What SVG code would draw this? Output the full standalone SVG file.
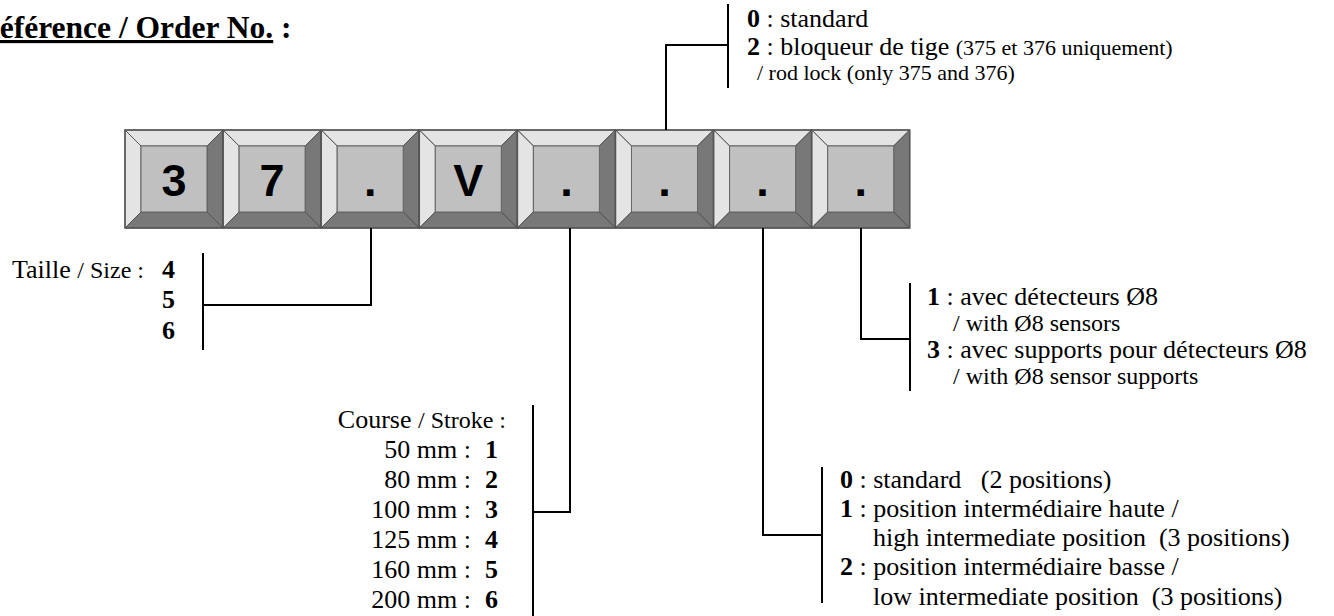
<svg xmlns="http://www.w3.org/2000/svg" xmlns:xlink="http://www.w3.org/1999/xlink" width="1334" height="616" viewBox="0 0 1334 616">
<style>
.t{font-family:"Liberation Serif","Times New Roman",serif;font-size:26px;fill:#000;white-space:pre}
.s{font-size:22px}
.m{font-size:24px}
.b{font-weight:bold}
.k{font-family:"Liberation Sans",Arial,sans-serif;font-size:45px;font-weight:bold;fill:#000;text-anchor:middle}
.ln{stroke:#000;stroke-width:2;fill:none}
.ed{stroke:#555;stroke-width:1}
</style>
<defs>
<g id="keyshape">
<rect x="0" y="0" width="98" height="98" fill="#787878"/>
<polygon points="0,0 98,0 82,16 16,16" fill="#e4e4e4" class="ed"/>
<polygon points="0,0 16,16 16,82 0,98" fill="#e4e4e4" class="ed"/>
<polygon points="98,0 98,98 82,82 82,16" fill="#787878" class="ed"/>
<polygon points="0,98 16,82 82,82 98,98" fill="#787878" class="ed"/>
<rect x="16" y="16" width="66" height="66" fill="#c0c0c0" stroke="#666" stroke-width="1"/>
<rect x="0" y="0" width="98" height="98" fill="none" stroke="#555" stroke-width="1.5"/>
</g>
</defs>
<rect width="1334" height="616" fill="#fff"/>
<g id="title">
<text class="t b" x="-23" y="38" style="font-size:31.5px"><tspan text-decoration="underline">Référence / Order No.</tspan> :</text>
</g>
<g id="key1" transform="translate(125,130)"><use xlink:href="#keyshape"/><text class="k" x="49" y="66">3</text></g>
<g id="key2" transform="translate(223.1,130)"><use xlink:href="#keyshape"/><text class="k" x="49" y="66">7</text></g>
<g id="key3" transform="translate(321.2,130)"><use xlink:href="#keyshape"/><text class="k" x="49" y="66">.</text></g>
<g id="key4" transform="translate(419.3,130)"><use xlink:href="#keyshape"/><text class="k" x="49" y="66">V</text></g>
<g id="key5" transform="translate(517.4,130)"><use xlink:href="#keyshape"/><text class="k" x="49" y="66">.</text></g>
<g id="key6" transform="translate(615.5,130)"><use xlink:href="#keyshape"/><text class="k" x="49" y="66">.</text></g>
<g id="key7" transform="translate(713.6,130)"><use xlink:href="#keyshape"/><text class="k" x="49" y="66">.</text></g>
<g id="key8" transform="translate(811.7,130)"><use xlink:href="#keyshape"/><text class="k" x="49" y="66">.</text></g>
<g id="connectors">
<polyline class="ln" points="666,130 666,45 728,45"/>
<line class="ln" x1="728" y1="4" x2="728" y2="88"/>
<polyline class="ln" points="371,228 371,305 203,305"/>
<line class="ln" x1="203" y1="253" x2="203" y2="350"/>
<polyline class="ln" points="570,228 570,512 533,512"/>
<line class="ln" x1="533" y1="405" x2="533" y2="616"/>
<polyline class="ln" points="763,228 763,535 822,535"/>
<line class="ln" x1="822" y1="467" x2="822" y2="603"/>
<polyline class="ln" points="861,228 861,339 910,339"/>
<line class="ln" x1="910" y1="283" x2="910" y2="391"/>
</g>
<g id="opt-rodlock">
<text class="t" x="747" y="27"><tspan class="b">0</tspan> : standard</text>
<text class="t" x="747" y="55"><tspan class="b">2</tspan> : bloqueur de tige <tspan class="s">(375 et 376 uniquement)</tspan></text>
<text class="t s" x="757" y="80">/ rod lock (only 375 and 376)</text>
</g>
<g id="opt-size">
<text class="t" x="12" y="278">Taille <tspan class="m">/ Size :</tspan></text>
<text class="t b" x="162" y="278">4</text>
<text class="t b" x="162" y="308">5</text>
<text class="t b" x="162" y="339">6</text>
</g>
<g id="opt-stroke">
<text class="t" x="506" y="428" text-anchor="end">Course <tspan class="m">/ Stroke :</tspan></text>
<text class="t" x="471" y="458" text-anchor="end">50 mm :</text><text class="t b" x="485" y="458">1</text>
<text class="t" x="471" y="488" text-anchor="end">80 mm :</text><text class="t b" x="485" y="488">2</text>
<text class="t" x="471" y="518" text-anchor="end">100 mm :</text><text class="t b" x="485" y="518">3</text>
<text class="t" x="471" y="548" text-anchor="end">125 mm :</text><text class="t b" x="485" y="548">4</text>
<text class="t" x="471" y="578" text-anchor="end">160 mm :</text><text class="t b" x="485" y="578">5</text>
<text class="t" x="471" y="608" text-anchor="end">200 mm :</text><text class="t b" x="485" y="608">6</text>
</g>
<g id="opt-position">
<text class="t" x="840" y="488"><tspan class="b">0</tspan> : standard   (2 positions)</text>
<text class="t" x="840" y="517"><tspan class="b">1</tspan> : position intermédiaire haute /</text>
<text class="t" x="873" y="546">high intermediate position  (3 positions)</text>
<text class="t" x="840" y="575"><tspan class="b">2</tspan> : position intermédiaire basse /</text>
<text class="t" x="873" y="605">low intermediate position  (3 positions)</text>
</g>
<g id="opt-sensors">
<text class="t" x="927" y="305"><tspan class="b">1</tspan> : avec détecteurs Ø8</text>
<text class="t m" x="953" y="331">/ with Ø8 sensors</text>
<text class="t" x="927" y="358"><tspan class="b">3</tspan> : avec supports pour détecteurs Ø8</text>
<text class="t m" x="953" y="384">/ with Ø8 sensor supports</text>
</g>
</svg>
